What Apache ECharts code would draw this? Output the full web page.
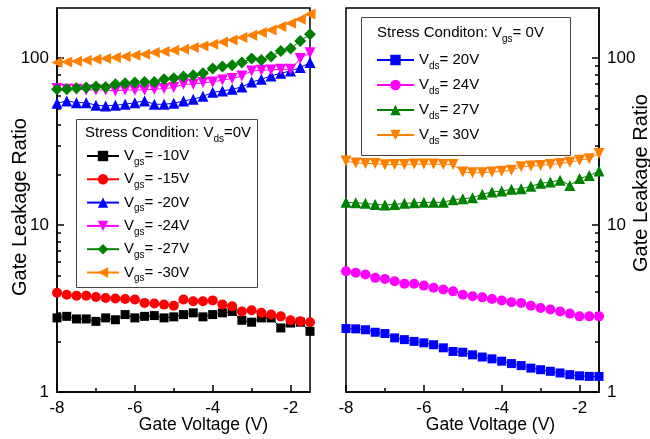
<!DOCTYPE html>
<html><head><meta charset="utf-8">
<script src="https://cdn.jsdelivr.net/npm/echarts@6/dist/echarts.min.js"></script>
<style>html,body{margin:0;padding:0;background:#fff}#c{width:650px;height:439px}</style>
</head><body><div id="c"></div>
<script>
// ---------- data ----------
const gateVoltage = [-8,-7.75,-7.5,-7.25,-7,-6.75,-6.5,-6.25,-6,-5.75,-5.5,-5.25,-5,-4.75,-4.5,-4.25,-4,-3.75,-3.5,-3.25,-3,-2.75,-2.5,-2.25,-2,-1.75,-1.5];

// left panel: stress Vds = 0 V, varying Vgs
const vgsM10 = [2.78,2.84,2.74,2.74,2.65,2.78,2.71,2.91,2.78,2.84,2.87,2.78,2.82,2.91,2.98,2.82,2.91,2.98,3.04,2.69,2.62,2.78,2.78,2.42,2.59,2.62,2.31];
const vgsM15 = [3.93,3.83,3.78,3.78,3.71,3.66,3.63,3.61,3.58,3.42,3.39,3.34,3.29,3.58,3.50,3.50,3.54,3.34,3.26,3.04,3.09,2.98,2.91,2.84,2.69,2.65,2.62];
const vgsM20 = [53.7,55.5,54.2,54.2,52.3,51.8,52.3,53,54.2,55.5,53,53,53.7,55.5,56.8,59.1,62.5,63.7,65.2,67.3,72,74.8,78.3,81.3,83.9,88,94.2];
const vgsM24 = [65.8,65.2,65.2,64.6,64.6,64.6,63.7,64.6,64.6,64.6,65.2,65.8,66.7,69.9,69.9,71.5,72,74.1,75.5,78.3,83.9,84.7,85,85.9,85.9,99.6,108];
const vgsM27 = [65.2,65.2,66.1,66.7,67.6,67.3,69.9,70.8,71.5,72,72,74.8,75.9,77.6,79.1,81.3,86.9,89.3,90.8,94.2,99.6,97.7,102.4,110.6,114.3,127,139];
const vgsM30 = [94.2,95,96,97.3,98.6,99.6,101,102.4,104.2,105.7,108.2,109.7,111.7,113.2,115.9,118.5,121.3,125.3,128.8,133,137.5,142.6,147.8,155,162,171,184];

// right panel: stress Vgs = 0 V, varying Vds
const vds20 = [2.40,2.39,2.36,2.28,2.24,2.11,2.06,2.01,1.97,1.92,1.84,1.75,1.73,1.67,1.62,1.58,1.53,1.48,1.44,1.39,1.36,1.33,1.30,1.27,1.25,1.24,1.24];
const vds24 = [5.29,5.18,5.06,4.83,4.76,4.61,4.46,4.46,4.34,4.21,4.11,4.01,3.83,3.75,3.69,3.61,3.53,3.45,3.42,3.29,3.19,3.12,3.04,2.95,2.84,2.84,2.84];
const vds27 = [13.7,13.6,13.5,13.3,13.2,13.3,13.5,13.6,13.7,13.7,13.7,14.2,14.4,14.6,15.3,15.8,16.0,16.4,16.5,17.1,17.8,18.1,18.6,17.3,19.0,19.8,21.1];
const vds30 = [24.2,23.6,23.4,23.4,23.0,23.1,23.1,23.2,23.2,23.2,23.1,23.1,20.8,20.6,20.6,20.8,21.0,21.3,22.4,22.6,22.8,23.1,23.4,23.8,24.5,25.0,26.9];

const leftLegendLabels = ['-10V','-15V','-20V','-24V','-27V','-30V'];
const rightLegendLabels = ['20V','24V','27V','30V'];

const xMajorTicks = [-8,-6,-4,-2];
const xMinorTicks = [-7,-5,-3];
const yMajorTicks = [1,10,100];
const yMinorTicks = [2,3,4,5,6,7,8,9,20,30,40,50,60,70,80,90];

// ---------- chart ----------
const FONT = '"Liberation Sans", Arial, sans-serif';
const chart = echarts.init(document.getElementById('c'), null, {renderer:'canvas'});

const pairs = arr => gateVoltage.map((x,i)=>[x, arr[i]]);
const tick = () => ({color:'#000', width:1.5});

function mkX(grid, minor, namePad){
  const base = {
    type:'value', gridIndex:grid, min:-8, max:-1.5, position:'bottom',
    splitLine:{show:false}
  };
  if (minor) return Object.assign(base, {
    axisLine:{show:false}, axisLabel:{show:false},
    axisTick:{show:true, inside:true, length:4, customValues:xMinorTicks, lineStyle:tick()}
  });
  return Object.assign(base, {
    axisLine:{show:true, onZero:false, lineStyle:{color:'#000', width:1.5}},
    axisTick:{show:true, inside:true, length:7, customValues:xMajorTicks, lineStyle:tick()},
    axisLabel:{customValues:xMajorTicks, fontSize:17, color:'#000', margin:8, fontFamily:FONT},
    name:'Gate Voltage (V)', nameLocation:'middle', nameGap:24, nameMoveOverlap:false,
    nameTextStyle:{fontSize:17.5, color:'#000', fontFamily:FONT, padding:namePad}
  });
}
function mkY(grid, pos, minor, namePad, nameGap){
  const base = {
    type:'log', logBase:10, gridIndex:grid, min:1, max:200, position:pos,
    splitLine:{show:false}, minorSplitLine:{show:false}
  };
  if (minor) return Object.assign(base, {
    axisLine:{show:false}, axisLabel:{show:false},
    axisTick:{show:true, inside:true, length:4, customValues:yMinorTicks, lineStyle:tick()}
  });
  return Object.assign(base, {
    axisLine:{show:true, onZero:false, lineStyle:{color:'#000', width:1.5}},
    axisTick:{show:true, inside:true, length:7, customValues:yMajorTicks, lineStyle:tick()},
    axisLabel:{customValues:yMajorTicks, fontSize:17, color:'#000', margin:8, fontFamily:FONT},
    name:'Gate Leakage Ratio', nameLocation:'middle', nameGap:nameGap, nameRotate:90, nameMoveOverlap:false,
    nameTextStyle:{fontSize:20, color:'#000', fontFamily:FONT, padding:namePad}
  });
}

function mkSeries(name, arr, xi, yi, color, symbol, size, rot){
  return {
    type:'line', name:name, xAxisIndex:xi, yAxisIndex:yi, data:pairs(arr),
    symbol:symbol, symbolSize:size, symbolRotate:rot||0, showSymbol:true,
    itemStyle:{color:color}, lineStyle:{color:color, width:1},
    emphasis:{disabled:true}, animation:false
  };
}

const leftNames = leftLegendLabels.map(v=>'Vgs='+v);
const rightNames = rightLegendLabels.map(v=>'Vds='+v);

const series = [
  mkSeries(leftNames[0], vgsM10, 0, 0, '#000000', 'rect', 9),
  mkSeries(leftNames[1], vgsM15, 0, 0, '#ff0000', 'circle', 10),
  mkSeries(leftNames[2], vgsM20, 0, 0, '#0000ff', 'triangle', 11),
  mkSeries(leftNames[3], vgsM24, 0, 0, '#ff00ff', 'triangle', 11, 180),
  mkSeries(leftNames[4], vgsM27, 0, 0, '#008000', 'diamond', 12),
  mkSeries(leftNames[5], vgsM30, 0, 0, '#ff8000', 'triangle', 11, 90),
  mkSeries(rightNames[0], vds20, 2, 2, '#0000ff', 'rect', 9),
  mkSeries(rightNames[1], vds24, 2, 2, '#ff00ff', 'circle', 10),
  mkSeries(rightNames[2], vds27, 2, 2, '#008000', 'triangle', 11),
  mkSeries(rightNames[3], vds30, 2, 2, '#ff8000', 'triangle', 11, 180)
];

const rich = {
  v:{fontSize:15, lineHeight:18, color:'#000', fontFamily:FONT},
  s:{fontSize:10, lineHeight:10, padding:[12,0,0,0], color:'#000', fontFamily:FONT}
};

const option = {
  backgroundColor:'#fff',
  animation:false,
  grid:[
    {left:57, right:340, top:8, bottom:47, outerBoundsMode:'none', containLabel:false, show:true, borderColor:'#000', borderWidth:1.5, backgroundColor:'transparent'},
    {left:346, right:51, top:8, bottom:47, outerBoundsMode:'none', containLabel:false, show:true, borderColor:'#000', borderWidth:1.5, backgroundColor:'transparent'}
  ],
  xAxis:[ mkX(0,false,[0,0,0,40]), mkX(0,true), mkX(1,false,[0,0,0,36]), mkX(1,true) ],
  yAxis:[ mkY(0,'left',false,[0,14,0,0],27), mkY(0,'left',true), mkY(1,'right',false,[0,0,0,34],32), mkY(1,'right',true) ],
  legend:[
    {data:leftNames, orient:'vertical', left:86, top:145, itemWidth:32, itemHeight:13, itemGap:1.3, padding:0,
     selectedMode:false, textStyle:{rich:rich},
     formatter:n=>'{v|V}{s|gs}{v|= '+leftLegendLabels[leftNames.indexOf(n)]+'}'},
    {data:rightNames, orient:'vertical', left:376, top:49, itemWidth:37, itemHeight:13, itemGap:3, padding:0,
     selectedMode:false, textStyle:{rich:rich},
     formatter:n=>'{v|V}{s|ds}{v|= '+rightLegendLabels[rightNames.indexOf(n)]+'}'}
  ],
  graphic:[
    {type:'rect', left:74, top:117, shape:{width:181, height:168}, style:{fill:'none', stroke:'#444', lineWidth:1}, z:1},
    {type:'text', left:85, top:122, style:{text:'{v|Stress Condition: V}{s|ds}{v|=0V}', rich:rich}, z:2},
    {type:'rect', left:359, top:15, shape:{width:209, height:138}, style:{fill:'none', stroke:'#444', lineWidth:1}, z:1},
    {type:'text', left:377, top:22, style:{text:'{v|Stress Conditon: V}{s|gs}{v|= 0V}', rich:rich}, z:2}
  ],
  series:series
};
chart.setOption(option);
</script></body></html>
